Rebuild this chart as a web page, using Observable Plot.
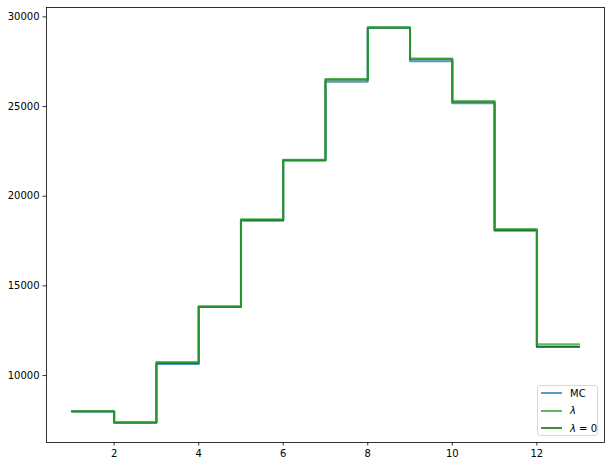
<!DOCTYPE html>
<html>
<head>
<meta charset="utf-8">
<script src="https://cdn.jsdelivr.net/npm/d3@7"></script>
<script src="https://cdn.jsdelivr.net/npm/@observablehq/plot@0.6"></script>
<style>
  html, body { margin: 0; padding: 0; background: #fff; }
  #wrap { position: relative; width: 611px; height: 466px; font-family: "DejaVu Sans", sans-serif; }
  #legend { position: absolute; left: 537px; top: 385px; width: 61px; height: 51px; border: 1px solid #d9d9d9; border-radius: 3px; background: rgba(255,255,255,0.8); font-size: 10px; color: #000; box-sizing: border-box; }
  .item { position: absolute; left: 0; height: 14px; display: flex; align-items: center; }
  .sw { display: inline-block; width: 21px; height: 2px; margin-left: 3px; margin-right: 8px; }
</style>
</head>
<body>
<div id="wrap"></div>
<script>
// Bin edges (x) and the step values for each series (last value repeated to close the final step)
const edges = [1, 2, 3, 4, 5, 6, 7, 8, 9, 10, 11, 12, 13];
const mcValues = [8000, 7380, 10650, 13820, 18630, 21990, 26380, 29400, 27530, 25190, 18080, 11600, 11600];
const lamValues = [8020, 7400, 10760, 13860, 18720, 22030, 26540, 29420, 27680, 25300, 18170, 11750, 11750];
const lam0Values = [7990, 7370, 10700, 13840, 18680, 22010, 26490, 29390, 27640, 25270, 18120, 11610, 11610];
const seriesNames = ["MC", "λ", "λ = 0"];
const seriesColors = ["#1f77b4", "#2ca02c", "#006400"];
const drawOrder = ["MC", "λ = 0", "λ"];
const xTicks = [2, 4, 6, 8, 10, 12];
const yTicks = [10000, 15000, 20000, 25000, 30000];

const valuesByName = {"MC": mcValues, "λ": lamValues, "λ = 0": lam0Values};
const rows = [];
drawOrder.forEach(name => {
  valuesByName[name].forEach((v, i) => rows.push({series: name, x: edges[i], y: v}));
});

const allVals = [mcValues, lamValues, lam0Values].flat();
const ymin = d3.min(allVals), ymax = d3.max(allVals);
const ypad = (ymax - ymin) * 0.05;
const xmin = d3.min(edges), xmax = d3.max(edges);
const xpad = (xmax - xmin) * 0.05;

const chart = Plot.plot({
  width: 611,
  height: 466,
  marginLeft: 46,
  marginRight: 7,
  marginTop: 7,
  marginBottom: 24,
  style: {fontFamily: "DejaVu Sans, sans-serif", fontSize: "10px", color: "#000", background: "#fff", overflow: "visible"},
  x: {domain: [xmin - xpad, xmax + xpad], label: null},
  y: {domain: [ymin - ypad, ymax + ypad], label: null},
  color: {domain: seriesNames, range: seriesColors},
  marks: [
    Plot.line(rows, {x: "x", y: "y", z: "series", stroke: "series", strokeWidth: 2, strokeOpacity: 0.75, curve: "step-after"}),
    Plot.frame({stroke: "#000", strokeWidth: 0.8}),
    Plot.axisX({ticks: xTicks, tickSize: 3.5, tickPadding: 3.5, stroke: "#000", strokeWidth: 0.8, tickFormat: d => String(d), label: null}),
    Plot.axisY({ticks: yTicks, tickSize: 3.5, tickPadding: 3.5, stroke: "#000", strokeWidth: 0.8, tickFormat: d => String(d), label: null})
  ]
});

const wrap = document.getElementById("wrap");
wrap.appendChild(chart);

// legend
const legend = document.createElement("div");
legend.id = "legend";
const labelsHtml = ["MC", "<i>λ</i>", "<i>λ</i> = 0"];
seriesNames.forEach((name, i) => {
  const it = document.createElement("div");
  it.className = "item";
  it.style.top = (i * 17.5) + "px";
  it.innerHTML = `<span class="sw" style="background:${seriesColors[i]};opacity:0.75"></span><span>${labelsHtml[i]}</span>`;
  legend.appendChild(it);
});
wrap.appendChild(legend);
</script>
</body>
</html>
